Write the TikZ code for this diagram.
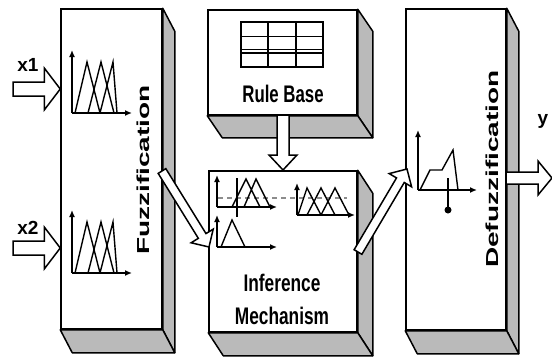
\documentclass[tikz,border=0pt]{standalone}
\usepackage{fontspec}
\setmainfont{Liberation Sans}
\usetikzlibrary{calc,arrows.meta}

\tikzset{
  front/.style={draw, fill=white, line width=1.5pt, inner sep=0pt},
  face/.style={draw, fill=black!27, line width=1.5pt, line join=round},
  axis/.style={line width=1.5pt, -{Latex[length=7pt,width=6pt]}},
  mf/.style={line width=1.4pt},
  blockarrow/.style={draw, fill=white, line width=1.5pt, line join=miter},
  hlbl/.style={font=\bfseries\fontsize{24}{33}\selectfont, align=center},
  vlbl/.style={font=\bfseries\fontsize{28}{30}\selectfont, rotate=90},
  inp/.style={font=\bfseries\fontsize{19}{20}\selectfont},
  mfset/.pic={
    \draw[axis] (0,0) -- (0,-63);
    \draw[axis] (0,0) -- (60,0);
    \draw[mf] (3,0) -- (15,-51) -- (28,0)
              (16,0) -- (29,-51) -- (42,0)
              (28,0) -- (41,-51) -- (45,0);
  }
}

% side and bottom faces of a block
\newcommand\depth[3]{%
  \draw[face] (#1.north east) -- ++(#2,#3) -- ($(#1.south east)+(#2,#3)$) -- (#1.south east) -- cycle;
  \draw[face] (#1.south west) -- (#1.south east) -- ++(#2,#3) -- ($(#1.south west)+(#2,#3)$) -- cycle;}

% hollow arrow: half shaft, head length, half head, from, to
\newcommand\hollowarrow[5]{%
  \draw[blockarrow] ($(#4)!#1!90:(#5)$) -- ($(#5)!#2!(#4)!#1!270:(#4)$)
    -- ($(#5)!#2!(#4)!#3!270:(#4)$) -- (#5) -- ($(#5)!#2!(#4)!#3!90:(#4)$)
    -- ($(#5)!#2!(#4)!#1!90:(#4)$) -- ($(#4)!#1!270:(#5)$) -- cycle;}

\begin{document}
\begin{tikzpicture}[x=1pt,y=-1pt]
  \fill[white] (0,0) rectangle (552,360);
  \useasboundingbox (0,0) rectangle (552,360);

  % blocks
  \node[front, minimum width=101pt, minimum height=320pt] (fuzz) at (111.5,169) {};
  \node[front, minimum width=149pt, minimum height=105pt] (rules) at (282.5,62.5) {};
  \node[front, minimum width=148pt, minimum height=161pt] (infer) at (283,251.5) {};
  \node[front, minimum width=100pt, minimum height=321pt] (defuzz) at (456,169.5) {};
  \depth{fuzz}{12}{23}
  \depth{rules}{15}{22}
  \depth{infer}{15}{23}
  \depth{defuzz}{12}{23}

  % labels
  \node[vlbl] (fuzztext) at (143,170) {\scalebox{1}[0.62]{Fuzzification}};
  \node[vlbl] (defuzztext) at (492,169) {\scalebox{1}[0.62]{Defuzzification}};
  \node[hlbl] (rulestext) at (283,94) {\scalebox{0.7}[1]{Rule Base}};
  \node[hlbl] (infertext) at (282,299.5) {\scalebox{0.72}[1]{Inference}\\\scalebox{0.72}[1]{Mechanism}};
  \node[inp] (x1) at (28,65) {x1};
  \node[inp] (x2) at (28,228) {x2};
  \node[inp] (y) at (543,121) {y};

  % rule table
  \draw[line width=1.5pt] (241,22) rectangle (323,67);
  \draw[line width=1.5pt] (268,22) -- (268,67) (296,22) -- (296,67)
    (241,36.5) -- (323,36.5) (241,49.5) -- (323,49.5) (241,53) -- (323,53);

  % membership functions
  \pic at (72,113) {mfset};
  \pic at (72,273) {mfset};

  \draw[black!45, line width=2.5pt, dash pattern=on 5pt off 4pt] (218,198) -- (347,198);
  \draw[axis] (217,207) -- (217,175);
  \draw[axis] (217,207) -- (277,207);
  \draw[mf] (237,178) -- (237,217);
  \draw[mf] (232,207) -- (246,179) -- (260,207) (244,207) -- (256,179) -- (270,207);
  \draw[axis] (297,215) -- (297,183);
  \draw[axis] (297,215) -- (355,215);
  \draw[mf] (298,215) -- (307,188) -- (321,215) (307,215) -- (321,188) -- (335,215)
    (321,215) -- (335,188) -- (349,215);
  \draw[axis] (217,247) -- (217,215);
  \draw[axis] (217,247) -- (277,247);
  \draw[mf] (221,247) -- (232,220) -- (245,247);

  \draw[axis] (418,190) -- (418,130);
  \draw[axis] (418,190) -- (477,190);
  \draw[mf] (420,190) -- (430,170) -- (442,170) -- (453,150) -- (458,190);
  \draw[mf] (448,178) -- (448,208);
  \fill (448,210) circle (3.5);

  % arrows
  \coordinate (x1in) at (13,89);
  \coordinate (x1tip) at (fuzz.west |- x1in);
  \coordinate (x2in) at (13,248);
  \coordinate (x2tip) at (fuzz.west |- x2in);
  \coordinate (rulesout) at (283,115);
  \coordinate (infertop) at (283,170);
  \coordinate (fuzzout) at (162,171);
  \coordinate (inferin) at (209,247);
  \coordinate (inferout) at (358,252);
  \coordinate (defuzzin) at (407,169);
  \coordinate (yout) at (506,178);
  \coordinate (yend) at (552,178);
  \hollowarrow{7pt}{16pt}{21pt}{x1in}{x1tip}
  \hollowarrow{7pt}{16pt}{21pt}{x2in}{x2tip}
  \hollowarrow{6pt}{15pt}{14pt}{rulesout}{infertop}
  \hollowarrow{4.5pt}{13pt}{13pt}{fuzzout}{inferin}
  \hollowarrow{4.5pt}{13pt}{13pt}{inferout}{defuzzin}
  \hollowarrow{6pt}{14pt}{17pt}{yout}{yend}
\end{tikzpicture}
\end{document}
